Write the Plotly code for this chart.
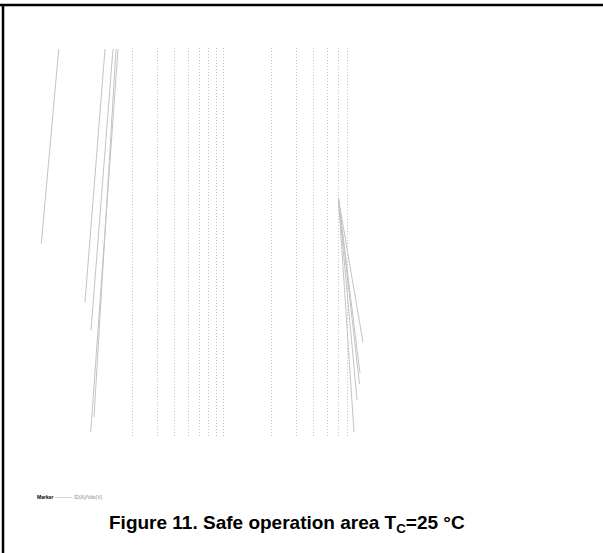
import plotly.graph_objects as go

# Grid positions along the (log) current/voltage axis
grid_vals = [2, 3, 4, 5, 6, 7, 8, 9, 20, 30, 40, 50, 60, 70]

# Left group of limit lines (x in axis units, y arbitrary units)
left_x_top = [0.586, 1.261, 1.439, 1.513, 1.564]
left_x_bot = [0.439, 0.905, 1.000, 1.051, 0.995]
left_y_top = [390, 390, 390, 390, 390]
left_y_bot = [195, 136, 108, 21, 6]

# Right group of fan lines
right_x_start = [60.3, 60.3, 60.3, 60.3, 60.3]
right_y_start = [240, 240, 240, 240, 240]
right_x_end = [90.5, 86.1, 85.4, 82.0, 78.0]
right_y_end = [96, 65, 54, 38, 6]

W, H = 603, 553
L, R, T, B = 30, 223, 48, 115
pw, ph = W - L - R, H - T - B

def px_x(px):
    return (px - L) / pw

def px_y(py):
    return (H - B - py) / ph

fig = go.Figure()
line_style = dict(color="#c4c4c4", width=1)
for i in range(len(left_x_top)):
    fig.add_trace(go.Scatter(x=[left_x_top[i], left_x_bot[i]],
                             y=[left_y_top[i], left_y_bot[i]],
                             mode="lines", line=line_style, hoverinfo="skip"))
for i in range(len(right_x_start)):
    fig.add_trace(go.Scatter(x=[right_x_start[i], right_x_end[i]],
                             y=[right_y_start[i], right_y_end[i]],
                             mode="lines", line=line_style, hoverinfo="skip"))

fig.update_xaxes(type="log", range=[-0.439, 2.079], tickvals=grid_vals,
                 showticklabels=False, ticks="", showgrid=True,
                 gridcolor="#c0c0c0", griddash="1px,2px", gridwidth=1,
                 zeroline=False, showline=False)
fig.update_yaxes(range=[0, 391], showgrid=False, showticklabels=False,
                 ticks="", zeroline=False, showline=False)

# Frame lines (top and left)
fig.add_shape(type="line", xref="paper", yref="paper",
              x0=px_x(0), x1=px_x(W), y0=px_y(5), y1=px_y(5),
              line=dict(color="black", width=2.5))
fig.add_shape(type="line", xref="paper", yref="paper",
              x0=px_x(3), x1=px_x(3), y0=px_y(4), y1=px_y(H + 5),
              line=dict(color="black", width=2.5))

fig.add_annotation(xref="paper", yref="paper", x=px_x(35), y=px_y(497),
                   xanchor="left", yanchor="middle", showarrow=False,
                   text="<b>Marker</b> <span style='color:#888'>───── ID(A)/Vds(V)</span>",
                   font=dict(family="Liberation Sans, Arial", size=5, color="black"))

fig.add_annotation(xref="paper", yref="paper", x=px_x(287), y=px_y(524),
                   xanchor="center", yanchor="middle", showarrow=False,
                   text="<b>Figure 11. Safe operation area T<sub>C</sub>=25 °C</b>",
                   font=dict(family="Liberation Sans, Arial", size=19, color="black"))

fig.update_layout(width=W, height=H, margin=dict(l=L, r=R, t=T, b=B),
                  paper_bgcolor="white", plot_bgcolor="white",
                  showlegend=False)

fig.write_html("out.html", config={"displayModeBar": False},
               post_script="document.body.style.margin='0';document.body.style.overflow='hidden';")
